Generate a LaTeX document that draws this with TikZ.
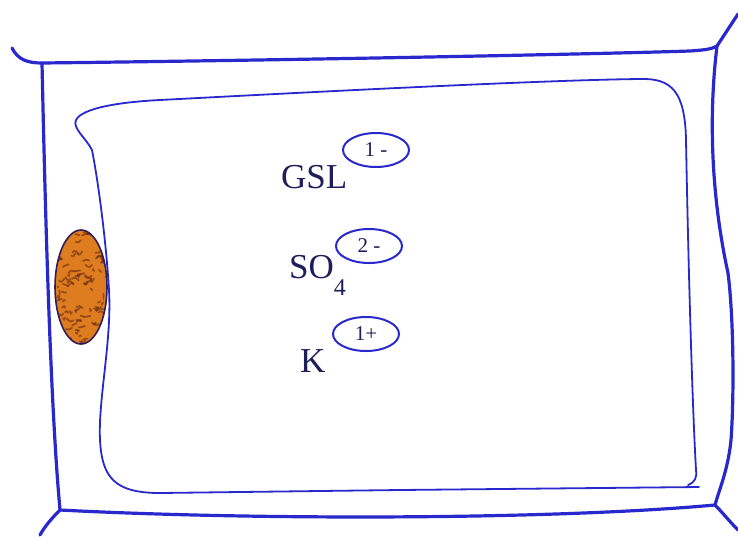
\documentclass[tikz,border=0pt]{standalone}
\usepackage{fontspec}
\setmainfont{Liberation Serif}
\usetikzlibrary{shapes.geometric}
\definecolor{wallblue}{RGB}{40,40,205}
\definecolor{inkblue}{RGB}{30,30,90}
\definecolor{plastid}{RGB}{222,124,32}
\definecolor{plastiddark}{RGB}{100,38,12}
\definecolor{plastidedge}{RGB}{50,30,90}
\begin{document}
\begin{tikzpicture}[x=1pt,y=-1pt,
  wall/.style={draw=wallblue,line width=3.2pt,line cap=round,line join=round},
  membrane/.style={draw=wallblue,line width=1.8pt,line cap=round,line join=round},
  ion/.style={font=\fontsize{35}{35}\selectfont,text=inkblue,inner sep=0pt,anchor=base west},
  charge/.style={draw=wallblue,line width=2pt,ellipse,minimum width=66pt,minimum height=34pt,
    inner sep=0pt,font=\fontsize{21}{21}\selectfont,text=inkblue}]
\useasboundingbox (0,0) rectangle (738,539);

% cell wall
\draw[wall] (12,48) .. controls (18,60) and (28,63) .. (42,63)
  .. controls (300,60) and (600,54) .. (690,51)
  .. controls (705,50) and (712,49) .. (717,46);
\draw[wall] (717,46) -- (738,14);
\draw[wall] (42,63) .. controls (45,200) and (50,400) .. (60,510);
\draw[wall] (60,510) .. controls (52,518) and (45,526) .. (40,535);
\draw[wall] (60,510) .. controls (250,520) and (550,520) .. (715,505);
\draw[wall] (715,505) .. controls (722,512) and (730,522) .. (738,530);
\draw[wall] (717,46) .. controls (708,120) and (712,200) .. (728,273)
  .. controls (734,320) and (734,400) .. (731,440)
  .. controls (728,470) and (719,490) .. (715,505);

% plasma membrane
\draw[membrane] (699,487) -- (400,490) -- (160,493)
  .. controls (115,493) and (102,478) .. (100,440)
  .. controls (98,400) and (112,340) .. (109,290)
  .. controls (106,240) and (98,180) .. (92,150)
  .. controls (86,138) and (72,128) .. (76,120)
  .. controls (82,108) and (120,102) .. (160,100)
  .. controls (350,90) and (550,80) .. (640,79)
  .. controls (672,78) and (685,92) .. (686,140)
  .. controls (688,250) and (692,400) .. (696,470)
  .. controls (697,478) and (695,482) .. (688,485);

% plastid with a mottled interior
\begin{scope}
  \clip (81,287) ellipse [x radius=26, y radius=57];
  \fill[plastid] (81,287) ellipse [x radius=26, y radius=57];
  \pgfmathsetseed{17}
  \foreach \i in {1,...,110} {
    \pgfmathsetmacro\px{54+54*rnd}
    \pgfmathsetmacro\py{228+118*rnd}
    \pgfmathsetmacro\dx{14*rnd-7}
    \pgfmathsetmacro\dy{5*rnd-2.5}
    \pgfmathsetmacro\bend{6*rnd-3}
    \draw[plastiddark,line width=1.8pt,opacity=0.55,line cap=round]
      (\px,\py) .. controls +(\dx/3,\bend) and +(-\dx/3,\bend) .. +(\dx,\dy);
  }
\end{scope}
\node[draw=plastidedge,line width=1.6pt,ellipse,minimum width=52pt,minimum height=114pt,inner sep=0pt]
  (plastid) at (81,287) {};

% ions with their charges
\node[ion] (gsl) at (281,188) {GSL};
\node[charge] (gslq) at (376,150) {1 -};

\node[ion] (so4) at (289,278) {SO\raisebox{-0.5em}{\fontsize{24}{24}\selectfont 4}};
\node[charge] (so4q) at (369,246) {2 -};

\node[ion] (k) at (300,372) {K};
\node[charge] (kq) at (366,334) {1+};
\end{tikzpicture}
\end{document}
